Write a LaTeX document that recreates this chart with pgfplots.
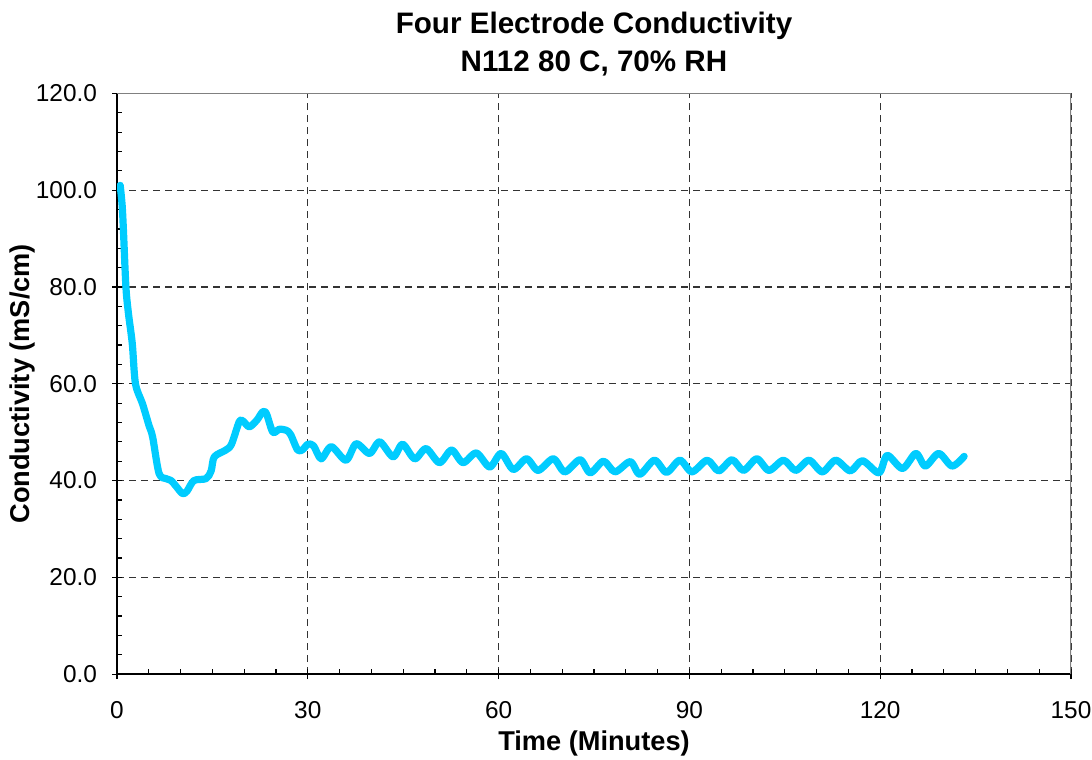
\documentclass[border=0pt]{standalone}
\usepackage{pgfplots}
\pgfplotsset{compat=1.18}
\usepackage{fontspec}
\setmainfont{Liberation Sans}
\definecolor{condcyan}{HTML}{00CCFF}

\pgfplotstableread{
t v
0.5 101.0
0.8 97.0
1.0 92.0
1.4 80.0
1.8 74.5
2.4 68.3
2.9 60.0
4.0 55.9
5.0 51.5
5.6 49.0
6.6 41.5
7.7 40.4
8.5 40.0
9.3 38.8
10.3 37.3
11.0 37.8
12.1 40.0
14.0 40.4
14.8 42.0
15.3 44.9
17.1 46.3
18.0 47.5
19.2 52.1
19.8 52.3
20.8 51.1
22.0 52.5
22.9 54.2
23.5 53.8
24.5 50.0
25.5 50.6
26.6 50.4
27.3 49.5
28.4 46.3
29.2 46.4
30.0 47.5
30.9 47.2
32.1 44.5
33.7 47.0
36.0 44.2
37.6 47.6
39.7 45.6
41.3 48.0
43.4 44.9
44.9 47.5
46.8 44.5
48.6 46.6
50.7 43.7
52.6 46.3
54.4 43.7
56.5 45.7
58.6 42.8
60.4 45.6
62.3 42.3
64.4 44.5
66.2 42.1
68.6 44.5
70.4 41.8
72.8 44.3
74.4 41.6
76.5 44.0
78.3 41.8
80.7 43.9
82.2 41.3
84.5 44.2
86.4 41.7
88.5 44.2
90.4 41.8
92.8 44.2
94.6 42.0
96.7 44.3
98.5 42.1
100.6 44.5
102.5 42.1
104.8 44.2
106.7 42.1
108.8 44.2
110.9 41.8
113.0 44.2
115.3 42.0
117.2 44.1
119.8 41.6
121.1 45.2
123.5 42.5
125.6 45.6
127.1 43.0
129.2 45.6
131.3 43.0
133.2 45.0
}\conddata

\begin{document}
\begin{tikzpicture}
\begin{axis}[
    scale only axis,
    width=476.9pt, height=290.3pt,
    xmin=0, xmax=150, ymin=0, ymax=120,
    xtick={0,30,...,150}, ytick={0,20,...,120},
    minor x tick num=5, minor y tick num=4,
    axis lines*=left,
    axis line style={black, line width=0.7pt, -},
    tick align=center,
    major tick length=5pt,
    minor tick length=2.6pt,
    tick style={black, line width=0.6pt},
    minor x tick style={yshift=1.3pt},
    minor y tick style={xshift=1.3pt},
    grid=major,
    major grid style={black!80, line width=0.65pt, dash pattern=on 3.5pt off 2.5pt},
    yticklabel style={/pgf/number format/fixed,
                      /pgf/number format/fixed zerofill,
                      /pgf/number format/precision=1,
                      xshift=-4pt},
    /pgf/number format/assume math mode=true,
    ticklabel style={font=\fontsize{12.2}{14}\selectfont},
    xticklabel style={yshift=-7.5pt},
    xlabel={\textbf{Time (Minutes)}},
    ylabel={\textbf{Conductivity (mS/cm)}},
    label style={font=\fontsize{13.6}{16}\selectfont},
    xlabel style={yshift=0.5pt},
    ylabel style={yshift=-6.5pt},
    title={\textbf{Four Electrode Conductivity}\\\textbf{N112 80 C, 70\% RH}},
    title style={align=center, font=\fontsize{14.8}{19}\selectfont, yshift=-1pt},
]
\coordinate (sw) at (rel axis cs:0,0);
\coordinate (ne) at (rel axis cs:1,1);
\draw[gray, line width=0.7pt] (rel axis cs:0,1) -- (rel axis cs:1,1) -- (rel axis cs:1,0);
\addplot[condcyan, line width=3.6pt, smooth, tension=0.5, line join=round, line cap=round, mark=none]
    table[x=t, y=v] {\conddata};
\end{axis}
\pgfresetboundingbox
\path[use as bounding box] ([xshift=-58.5pt,yshift=-42.5pt]sw) rectangle ([xshift=10.5pt,yshift=46.7pt]ne);
\end{tikzpicture}
\end{document}
